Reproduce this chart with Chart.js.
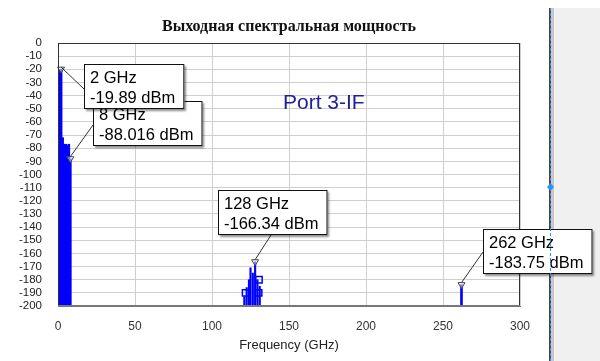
<!DOCTYPE html>
<html><head><meta charset="utf-8">
<script src="https://cdn.jsdelivr.net/npm/chart.js@4/dist/chart.umd.min.js"></script>
<style>html,body{margin:0;padding:0;background:#fff;overflow:hidden}#wrap{width:600px;height:361px;position:relative}</style>
</head><body><div id="wrap"><canvas id="c" width="600" height="361"></canvas></div>
<script>
// ---------- data ----------
const chartTitle = 'Выходная спектральная мощность';
const xAxisTitle = 'Frequency (GHz)';
const portLabel = 'Port 3-IF';
const xTicks = [0, 50, 100, 150, 200, 250, 300];
const yTicks = [0, -10, -20, -30, -40, -50, -60, -70, -80, -90, -100, -110, -120, -130, -140, -150, -160, -170, -180, -190, -200];

const lowFreq  = [1, 2, 3, 4, 5, 6, 7, 8];
const lowPower = [-21, -19.89, -72, -77, -77, -78, -77, -88.016];

const midFreq  = [121, 122.5, 124, 125, 126.5, 128, 129.5, 131];
const midPower = [-193, -186, -180, -171, -175, -166.34, -180, -185];

const boxFreq  = [121.8, 130.5, 130.3];
const boxPower = [-190, -180, -190];

const highFreq  = [262];
const highPower = [-183.75];

const markerFreq  = [2, 8, 128, 262];
const markerPower = [-19.89, -88.016, -166.34, -183.75];

// ---------- presentation ----------
const FONT = "'Liberation Sans', Arial, sans-serif";
const boxLayout = [
  {dx: 22.6, dy: -5.2,  anchor: 'left',   ax: 0,  ay: 25, z: 2},
  {dx: 22.4, dy: -57.7, anchor: 'left',   ax: 0,  ay: 24, z: 1},
  {dx: -37.4, dy: -71.7, anchor: 'bottom', ax: 53, ay: 0, z: 3},
  {dx: 21.2, dy: -55.6, anchor: 'left',   ax: 0,  ay: 23, z: 4}
];

const stick = (fs, ps) => fs.map((f, i) => ({x: f, y: [-200, ps[i]]}));
const pts = (fs, ps) => fs.map((f, i) => ({x: f, y: ps[i]}));

const decor = {
  id: 'decor',
  beforeDraw(chart) {
    const ctx = chart.ctx;
    ctx.save();
    ctx.fillStyle = '#fff';
    ctx.fillRect(0, 0, chart.width, chart.height);
    ctx.restore();
  },
  afterDraw(chart) {
    const ctx = chart.ctx;
    const a = chart.chartArea;
    const xs = chart.scales.x, ys = chart.scales.y;
    ctx.save();
    // frame
    ctx.strokeStyle = '#333';
    ctx.lineWidth = 1;
    ctx.strokeRect(a.left + 0.5, a.top + 0.5, a.right - a.left - 1, a.bottom - a.top);
    ctx.strokeStyle = '#777';
    ctx.lineWidth = 2;
    ctx.beginPath(); ctx.moveTo(a.left, a.bottom); ctx.lineTo(a.right, a.bottom); ctx.stroke();
    // title
    ctx.fillStyle = '#111';
    ctx.font = "bold 16px 'Liberation Serif', 'DejaVu Serif', serif";
    ctx.textAlign = 'center';
    ctx.textBaseline = 'middle';
    ctx.fillText(chartTitle, (a.left + a.right) / 2, 27);
    // port label
    ctx.fillStyle = '#20209c';
    ctx.font = '21px ' + FONT;
    ctx.textAlign = 'left';
    ctx.textBaseline = 'alphabetic';
    ctx.fillText(portLabel, a.left + 225, 109);
    // right side panel
    ctx.fillStyle = '#f0f0f0';
    ctx.fillRect(553, 8, chart.width - 553, chart.height - 8);
    ctx.fillStyle = '#c8c8c8';
    ctx.fillRect(551, 8, 3, chart.height - 8);
    ctx.fillStyle = '#444';
    ctx.fillRect(549, 8, 2, chart.height - 8);
    // annotation boxes
    const order = boxLayout.map((b, i) => i).sort((p, q) => boxLayout[p].z - boxLayout[q].z);
    ctx.font = '16.5px ' + FONT;
    for (const i of order) {
      const L = boxLayout[i];
      const mx = xs.getPixelForValue(markerFreq[i]);
      const my = ys.getPixelForValue(markerPower[i]);
      const l1 = markerFreq[i] + ' GHz';
      const l2 = markerPower[i] + ' dBm';
      const w = Math.max(ctx.measureText(l1).width, ctx.measureText(l2).width) + 15;
      const h = 45;
      const bx = Math.round(mx + L.dx), by = Math.round(my + L.dy);
      // leader
      ctx.strokeStyle = '#333';
      ctx.lineWidth = 1;
      ctx.beginPath();
      ctx.moveTo(mx, my - 2);
      ctx.lineTo(bx + L.ax, by + (L.anchor === 'bottom' ? h : L.ay));
      ctx.stroke();
      // box with shadow
      ctx.save();
      ctx.shadowColor = 'rgba(0,0,0,0.45)';
      ctx.shadowOffsetX = 2; ctx.shadowOffsetY = 2; ctx.shadowBlur = 2;
      ctx.fillStyle = '#fff';
      ctx.fillRect(bx, by, w, h);
      ctx.restore();
      ctx.strokeStyle = '#111';
      ctx.strokeRect(bx + 0.5, by + 0.5, w - 1, h - 1);
      ctx.fillStyle = '#000';
      ctx.textAlign = 'left';
      ctx.textBaseline = 'middle';
      ctx.fillText(l1, bx + 6, by + 14);
      ctx.fillText(l2, bx + 6, by + 34);
    }
    // blue dashed cursor line
    ctx.strokeStyle = '#2f8fff';
    ctx.lineWidth = 1;
    ctx.setLineDash([3, 2]);
    ctx.beginPath(); ctx.moveTo(550.5, 8); ctx.lineTo(550.5, chart.height); ctx.stroke();
    ctx.setLineDash([]);
    ctx.fillStyle = '#2f8fff';
    ctx.beginPath();
    ctx.moveTo(550.5, 183); ctx.lineTo(554, 187); ctx.lineTo(550.5, 191); ctx.lineTo(547, 187); ctx.closePath();
    ctx.fill();
    ctx.restore();
  }
};

new Chart(document.getElementById('c'), {
  type: 'bar',
  data: {
    datasets: [
      {type: 'bar', data: stick(lowFreq, lowPower), backgroundColor: '#0000ff', barThickness: 2, grouped: false, order: 3},
      {type: 'bar', data: stick(midFreq, midPower), backgroundColor: '#0000ff', barThickness: 1.5, grouped: false, order: 3},
      {type: 'bar', data: stick(highFreq, highPower), backgroundColor: '#0000ff', barThickness: 2, grouped: false, order: 3},
      {type: 'scatter', data: pts(boxFreq, boxPower), pointStyle: 'rect', pointRadius: 4.5, borderColor: '#0000ff', backgroundColor: 'rgba(0,0,0,0)', borderWidth: 1.5, order: 2},
      {type: 'scatter', data: pts(highFreq, highFreq.map(() => -200)), pointStyle: 'line', pointRadius: 4, borderColor: '#0000ff', borderWidth: 2, order: 2, clip: false},
      {type: 'scatter', data: pts(markerFreq, markerPower), pointStyle: 'triangle', rotation: 180, pointRadius: 4, borderColor: '#444', backgroundColor: 'rgba(255,255,255,0.5)', borderWidth: 1, order: 1, clip: false}
    ]
  },
  options: {
    responsive: false,
    animation: false,
    devicePixelRatio: 1,
    layout: {padding: {top: 43, right: 80, left: 0, bottom: 0}},
    plugins: {legend: {display: false}, tooltip: {enabled: false}, title: {display: false}},
    scales: {
      x: {
        type: 'linear', min: 0, max: 300, offset: false,
        afterBuildTicks: s => { s.ticks = xTicks.map(v => ({value: v})); },
        afterFit: s => { s.height = 55; },
        grid: {color: '#cfcfcf', drawTicks: false, offset: false},
        border: {color: '#777'},
        ticks: {color: '#333', font: {family: FONT, size: 12}, padding: 13, maxRotation: 0},
        title: {display: true, text: xAxisTitle, color: '#222', font: {family: FONT, size: 13}, padding: {top: 0, bottom: 8}}
      },
      y: {
        type: 'linear', min: -200, max: 0,
        afterBuildTicks: s => { s.ticks = yTicks.map(v => ({value: v})); },
        afterFit: s => { s.width = 58; },
        grid: {color: '#cfcfcf', drawTicks: false},
        border: {color: '#333'},
        ticks: {color: '#222', font: {family: FONT, size: 11.5}, padding: 16, autoSkip: false}
      }
    }
  },
  plugins: [decor]
});
</script>
</body></html>
